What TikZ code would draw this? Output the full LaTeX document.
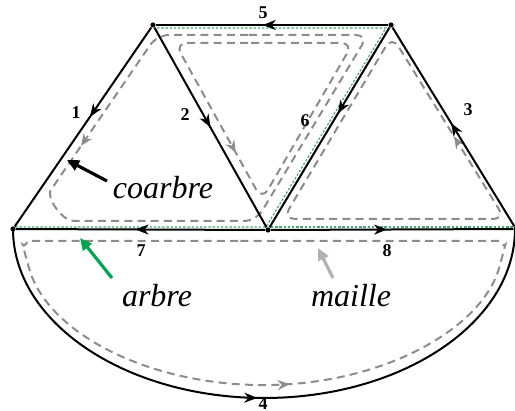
\documentclass[tikz,border=0pt]{standalone}
\usepackage{fontspec}
\setmainfont{Liberation Serif}
\usepackage{xcolor}
\usetikzlibrary{arrows.meta,decorations.markings}
\definecolor{treegreen}{RGB}{70,170,110}
\definecolor{arrowgreen}{RGB}{0,165,80}

\begin{document}
\begin{tikzpicture}[x=0.5pt,y=0.5pt,
  sommet/.style={circle,fill=black,inner sep=0pt,minimum size=2.6pt},
  branche/.style={line width=1pt},
  fleche/.style={postaction={decorate},decoration={markings,
    mark=at position #1 with {\arrow{Stealth[length=6.5pt,width=5pt,inset=2pt]}}}},
  maille/.style={gray!90,line width=1pt,dash pattern=on 4pt off 2.6pt,rounded corners=6pt},
  mfleche/.style={postaction={decorate},decoration={markings,
    mark=at position #1 with {\arrow{Stealth[length=6pt,width=5pt,inset=2pt]}}}},
  arbrepath/.style={treegreen,line width=0.6pt,dash pattern=on 1.2pt off 0.9pt},
  num/.style={font=\fontsize{9}{10}\selectfont\bfseries},
  mot/.style={anchor=base,font=\fontsize{16}{19}\selectfont\itshape},
  renvoi/.style={line width=1.6pt,-{Triangle[length=6pt,width=5.5pt]}}]
  \useasboundingbox (0,0) rectangle (515,-411);

  \node[sommet] (A) at (153,-25) {};
  \node[sommet] (B) at (391,-25) {};
  \node[sommet] (C) at (13,-229) {};
  \node[sommet] (D) at (268,-230) {};
  \node[sommet] (E) at (516,-229) {};

  \draw[arbrepath] (157,-28) -- (386,-28) -- (266,-227) -- (15,-227);
  \draw[arbrepath] (271,-227) -- (514,-227);

  \draw[maille,mfleche=.27] (260,-35) -- (157,-35) -- (57,-181)
    .. controls (47,-196) and (60,-221) .. (87,-221) -- (256,-221) -- (368,-35) -- cycle;
  \draw[maille,mfleche=.37] (260,-43) -- (175,-43) -- (262,-200) -- (353,-43) -- cycle;
  \draw[maille,mfleche=.29] (400,-219) -- (505,-219) -- (392,-36) -- (283,-219) -- cycle;
  \draw[maille,mfleche=.5] (250,-241) -- (40,-241)
    .. controls (28,-241) and (23.6,-248.4) .. (25.7,-256.1)
    arc[start angle=190,end angle=350,x radius=242,y radius=156]
    .. controls (504.4,-248.4) and (500,-241) .. (488,-241) -- cycle;

  \draw[branche,fleche=.45] (A) -- (C);
  \draw[branche,fleche=.5] (A) -- (D);
  \draw[branche,fleche=.52] (E) -- (B);
  \draw[branche,fleche=.49] (C) arc[start angle=180,end angle=360,x radius=251,y radius=169];
  \draw[branche,fleche=.54] (B) -- (A);
  \draw[branche,fleche=.43] (B) -- (D);
  \draw[branche,fleche=.52] (D) -- (C);
  \draw[branche,fleche=.48] (D) -- (E);

  \node[num] (n1) at (76,-113) {1};
  \node[num] (n2) at (185,-115) {2};
  \node[num] (n3) at (468,-110) {3};
  \node[num] (n4) at (263,-404) {4};
  \node[num] (n5) at (263,-13) {5};
  \node[num] (n6) at (305,-121) {6};
  \node[num] (n7) at (141,-251) {7};
  \node[num] (n8) at (387,-251) {8};

  \node[mot] (lcoarbre) at (163,-199) {coarbre};
  \node[mot] (larbre) at (157,-307) {arbre};
  \node[mot] (lmaille) at (351,-307) {maille};

  \coordinate (c0) at (107,-181);
  \coordinate (c1) at (67,-160);
  \coordinate (a0) at (112,-278);
  \coordinate (a1) at (80,-238);
  \coordinate (m0) at (333,-278);
  \coordinate (m1) at (318,-248);
  \draw[renvoi] (c0) -- (c1);
  \draw[renvoi,arrowgreen] (a0) -- (a1);
  \draw[renvoi,gray!60] (m0) -- (m1);
\end{tikzpicture}
\end{document}
